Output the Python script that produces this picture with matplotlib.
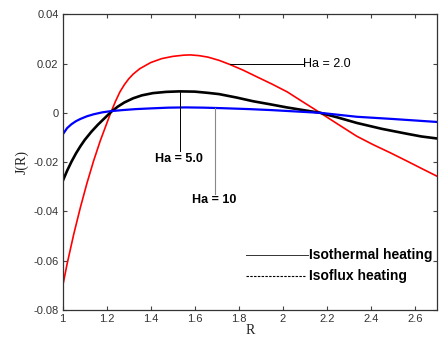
import matplotlib
matplotlib.use('Agg')
import matplotlib.pyplot as plt

# values
R_ha2 = [1.0, 1.02, 1.05, 1.08, 1.11, 1.14, 1.17, 1.218, 1.24, 1.26, 1.28, 1.30, 1.32, 1.35,
         1.40, 1.45, 1.50, 1.55, 1.58, 1.62, 1.66, 1.71, 1.76, 1.82, 1.88, 1.95, 2.02, 2.09,
         2.17, 2.25, 2.336, 2.41, 2.488, 2.56, 2.624, 2.7]
J_ha2 = [-0.0703, -0.0613, -0.0493, -0.0385, -0.0286, -0.0196, -0.0115, 0.0, 0.0047, 0.0085,
         0.0114, 0.0138, 0.0157, 0.0179, 0.0204, 0.0220, 0.0229, 0.0234, 0.0235, 0.0232, 0.0226,
         0.0213, 0.0196, 0.0173, 0.0147, 0.0117, 0.0085, 0.0045, 0.0, -0.0046, -0.0095, -0.0129,
         -0.0162, -0.0194, -0.0223, -0.0257]

R_ha5 = [1.0, 1.02, 1.04, 1.06, 1.08, 1.10, 1.13, 1.16, 1.19, 1.22, 1.25, 1.28, 1.32, 1.36,
         1.41, 1.47, 1.53, 1.6, 1.66, 1.71, 1.79, 1.865, 1.94, 2.018, 2.1, 2.17, 2.25, 2.336,
         2.45, 2.564, 2.63, 2.7]
J_ha5 = [-0.0277, -0.0235, -0.0198, -0.0165, -0.0136, -0.0110, -0.0077, -0.0048, -0.0022,
         0.0004, 0.0025, 0.0042, 0.0059, 0.0071, 0.0080, 0.0085, 0.0087, 0.0086, 0.0081, 0.0076,
         0.0062, 0.0047, 0.0035, 0.0022, 0.0010, 0.0, -0.0019, -0.0041, -0.0065, -0.0085,
         -0.0096, -0.0104]

R_ha10 = [1.0, 1.02, 1.04, 1.06, 1.08, 1.11, 1.14, 1.18, 1.22, 1.27, 1.33, 1.4, 1.48, 1.56,
          1.64, 1.72, 1.85, 1.95, 2.03, 2.17, 2.336, 2.5, 2.7]
J_ha10 = [-0.0088, -0.0062, -0.0046, -0.0034, -0.0025, -0.0014, -0.0006, 0.0002, 0.0007,
          0.0011, 0.0015, 0.0018, 0.0021, 0.0022, 0.0021, 0.0019, 0.0015, 0.0011, 0.0007, 0.0,
          -0.0016, -0.0025, -0.0037]

xticks = [1, 1.2, 1.4, 1.6, 1.8, 2, 2.2, 2.4, 2.6]
xtick_labels = ['1', '1.2', '1.4', '1.6', '1.8', '2', '2.2', '2.4', '2.6']
yticks = [-0.08, -0.06, -0.04, -0.02, 0, 0.02, 0.04]
ytick_labels = ['-0.08', '-0.06', '-0.04', '-0.02', '0', '0.02', '0.04']

plt.rcParams['font.family'] = ['Liberation Sans', 'DejaVu Sans']

fig = plt.figure(figsize=(4.4, 3.39), dpi=100)
ax = fig.add_axes([0.1425, 0.0855, 0.8505, 0.8725])

ax.plot(R_ha2, J_ha2, color='#ff0000', lw=1.2)
ax.plot(R_ha5, J_ha5, color='black', lw=1.9)
ax.plot(R_ha10, J_ha10, color='#0000ff', lw=1.6)

ax.set_xlim(1, 2.7)
ax.set_ylim(-0.08, 0.04)
ax.set_xticks(xticks)
ax.set_xticklabels(xtick_labels)
ax.set_yticks(yticks)
ax.set_yticklabels(ytick_labels)
ax.tick_params(direction='in', length=3, width=0.8, top=True, right=True,
               labelsize=8, labelcolor='#333333', color='#444444', pad=3)
for s in ax.spines.values():
    s.set_color('#333333')
    s.set_linewidth(0.9)

ax.set_xlabel('R', family='Liberation Serif', fontsize=10, color='#222222', labelpad=0)
ax.set_ylabel('J(R)', family='Liberation Serif', fontsize=10, color='#222222', labelpad=3)

# labels for the curves
ax.plot([1.761, 2.09], [0.0197, 0.0197], color='black', lw=0.7)
ax.text(2.093, 0.0197, 'Ha = 2.0', fontsize=9, va='center', ha='left')
ax.plot([1.534, 1.534], [0.0087, -0.0155], color='black', lw=0.7)
ax.text(1.53, -0.0189, 'Ha = 5.0', fontsize=9, fontweight='bold', va='center', ha='center')
ax.plot([1.693, 1.693], [0.0019, -0.0331], color='#888888', lw=0.8)
ax.text(1.688, -0.0354, 'Ha = 10', fontsize=9, fontweight='bold', va='center', ha='center')

# hand-made legend
ax.plot([1.833, 2.116], [-0.0578, -0.0578], color='#333333', lw=0.7)
ax.text(2.119, -0.0578, 'Isothermal heating', fontsize=10, fontweight='bold', va='center', ha='left')
ax.plot([1.833, 2.101], [-0.066, -0.066], color='black', lw=0.8, linestyle=(0, (2.2, 1.2)))
ax.text(2.119, -0.066, 'Isoflux heating', fontsize=10, fontweight='bold', va='center', ha='left')

fig.savefig('out.png', dpi=100)
